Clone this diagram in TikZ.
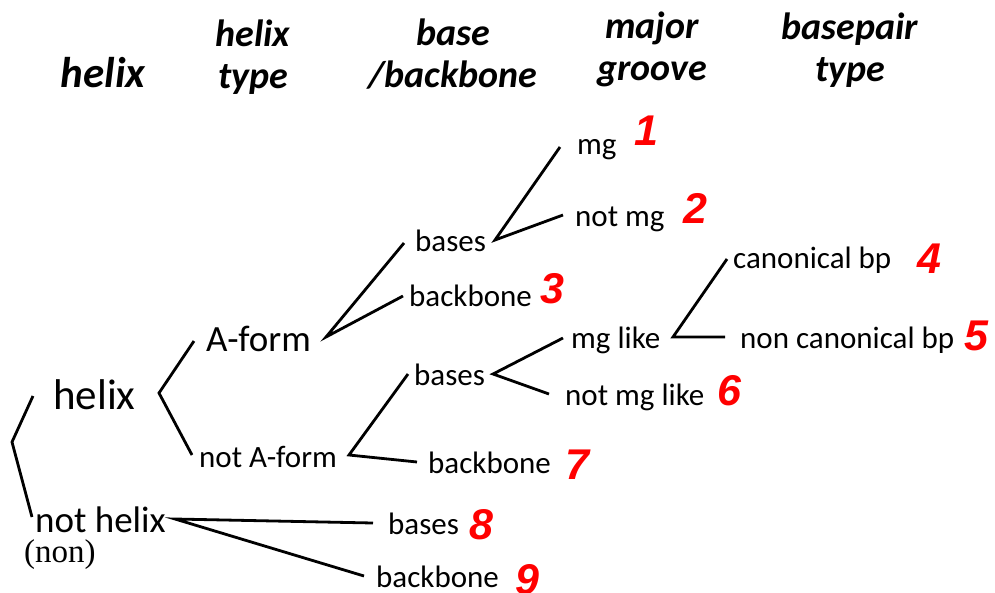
\documentclass[tikz,border=0pt]{standalone}
\usepackage{fontspec}
\newfontfamily\lblfont{Carlito}
\newfontfamily\headfont{Carlito}[UprightFont=*-BoldItalic]
\newfontfamily\numfont{Liberation Sans}[UprightFont=* Bold Italic]
\newfontfamily\paren{Liberation Serif}
\begin{document}
\begin{tikzpicture}[x=1pt,y=-1pt,
  lbl/.style={inner sep=0pt,anchor=base west,font=\lblfont\fontsize{31}{36}\selectfont},
  biglbl/.style={lbl,font=\lblfont\fontsize{37}{42}\selectfont},
  head/.style={inner sep=0pt,anchor=base,align=center,font=\headfont\fontsize{38}{42}\selectfont},
  num/.style={inner sep=0pt,anchor=base west,text=red,font=\numfont\fontsize{43}{48}\selectfont},
  branch/.style={draw=black,line width=2.8pt,line join=miter,line cap=butt}]
\useasboundingbox (0,0) rectangle (995,592);

% column headings (anchored at the baseline of their last line)
\node[head,font=\headfont\fontsize{43}{48}\selectfont] (hHelix) at (103,87) {helix};
\node[head] (hType) at (253,88) {helix\\type};
\node[head] (hBase) at (453,87) {base\\/backbone};
\node[head] (hGroove) at (652,80) {major\\groove};
\node[head] (hPair) at (850,81) {basepair\\type};

% tree labels
\node[lbl,font=\lblfont\fontsize{43}{48}\selectfont] (helix) at (53,409) {helix};
\node[biglbl] (nothelix) at (35,532) {not helix};
\node[inner sep=0pt,anchor=base west,font=\paren\fontsize{33}{38}\selectfont] (non) at (24,562) {(non)};
\node[biglbl] (aform) at (206,351) {A-form};
\node[lbl] (notaform) at (199,467) {not A-form};
\node[lbl] (basesA) at (415,251) {bases};
\node[lbl] (backA) at (409,306) {backbone};
\node[lbl] (basesN) at (414,385) {bases};
\node[lbl] (backN) at (428,473) {backbone};
\node[lbl] (mg) at (577,154) {mg};
\node[lbl] (notmg) at (575,226) {not mg};
\node[lbl] (mglike) at (571,348) {mg like};
\node[lbl] (notmglike) at (565,405) {not mg like};
\node[lbl] (canon) at (733,268) {canonical bp};
\node[lbl] (noncanon) at (740,348) {non canonical bp};
\node[lbl] (basesX) at (388,534) {bases};
\node[lbl] (backX) at (376,587) {backbone};

% class numbers
\node[num] (n1) at (634,145) {1};
\node[num] (n2) at (683,223) {2};
\node[num] (n3) at (540,303) {3};
\node[num] (n4) at (917,273) {4};
\node[num] (n5) at (964,350) {5};
\node[num] (n6) at (717,405) {6};
\node[num] (n7) at (565,479) {7};
\node[num] (n8) at (469,539) {8};
\node[num] (n9) at (515,594) {9};

% branch points and branch ends
\coordinate (root) at (12,442);
\coordinate (rootU) at (33,396);
\coordinate (rootD) at (32,517);
\coordinate (hV) at (159,393);
\coordinate (hU) at (194,341);
\coordinate (hD) at (192,455);
\coordinate (aV) at (326,337);
\coordinate (aU) at (404,243);
\coordinate (aD) at (403,296);
\coordinate (naV) at (349,455);
\coordinate (naU) at (408,374);
\coordinate (naD) at (417,462);
\coordinate (bV) at (495,240);
\coordinate (bU) at (560,147);
\coordinate (bD) at (563,215);
\coordinate (lbV) at (493,374);
\coordinate (lbU) at (563,338);
\coordinate (lbD) at (549,394);
\coordinate (mlV) at (673,337);
\coordinate (mlU) at (727,259);
\coordinate (mlD) at (725,337);
\coordinate (nhV) at (175,519);
\coordinate (nhU) at (373,523);
\coordinate (nhD) at (364,576);

% branches
\draw[branch] (rootU) -- (root) -- (rootD);
\draw[branch] (hU) -- (hV) -- (hD);
\draw[branch] (aU) -- (aV) -- (aD);
\draw[branch] (naU) -- (naV) -- (naD);
\draw[branch] (bU) -- (bV) -- (bD);
\draw[branch] (lbU) -- (lbV) -- (lbD);
\draw[branch] (mlU) -- (mlV) -- (mlD);
\draw[branch] (nhU) -- (nhV) -- (nhD);
\end{tikzpicture}
\end{document}
